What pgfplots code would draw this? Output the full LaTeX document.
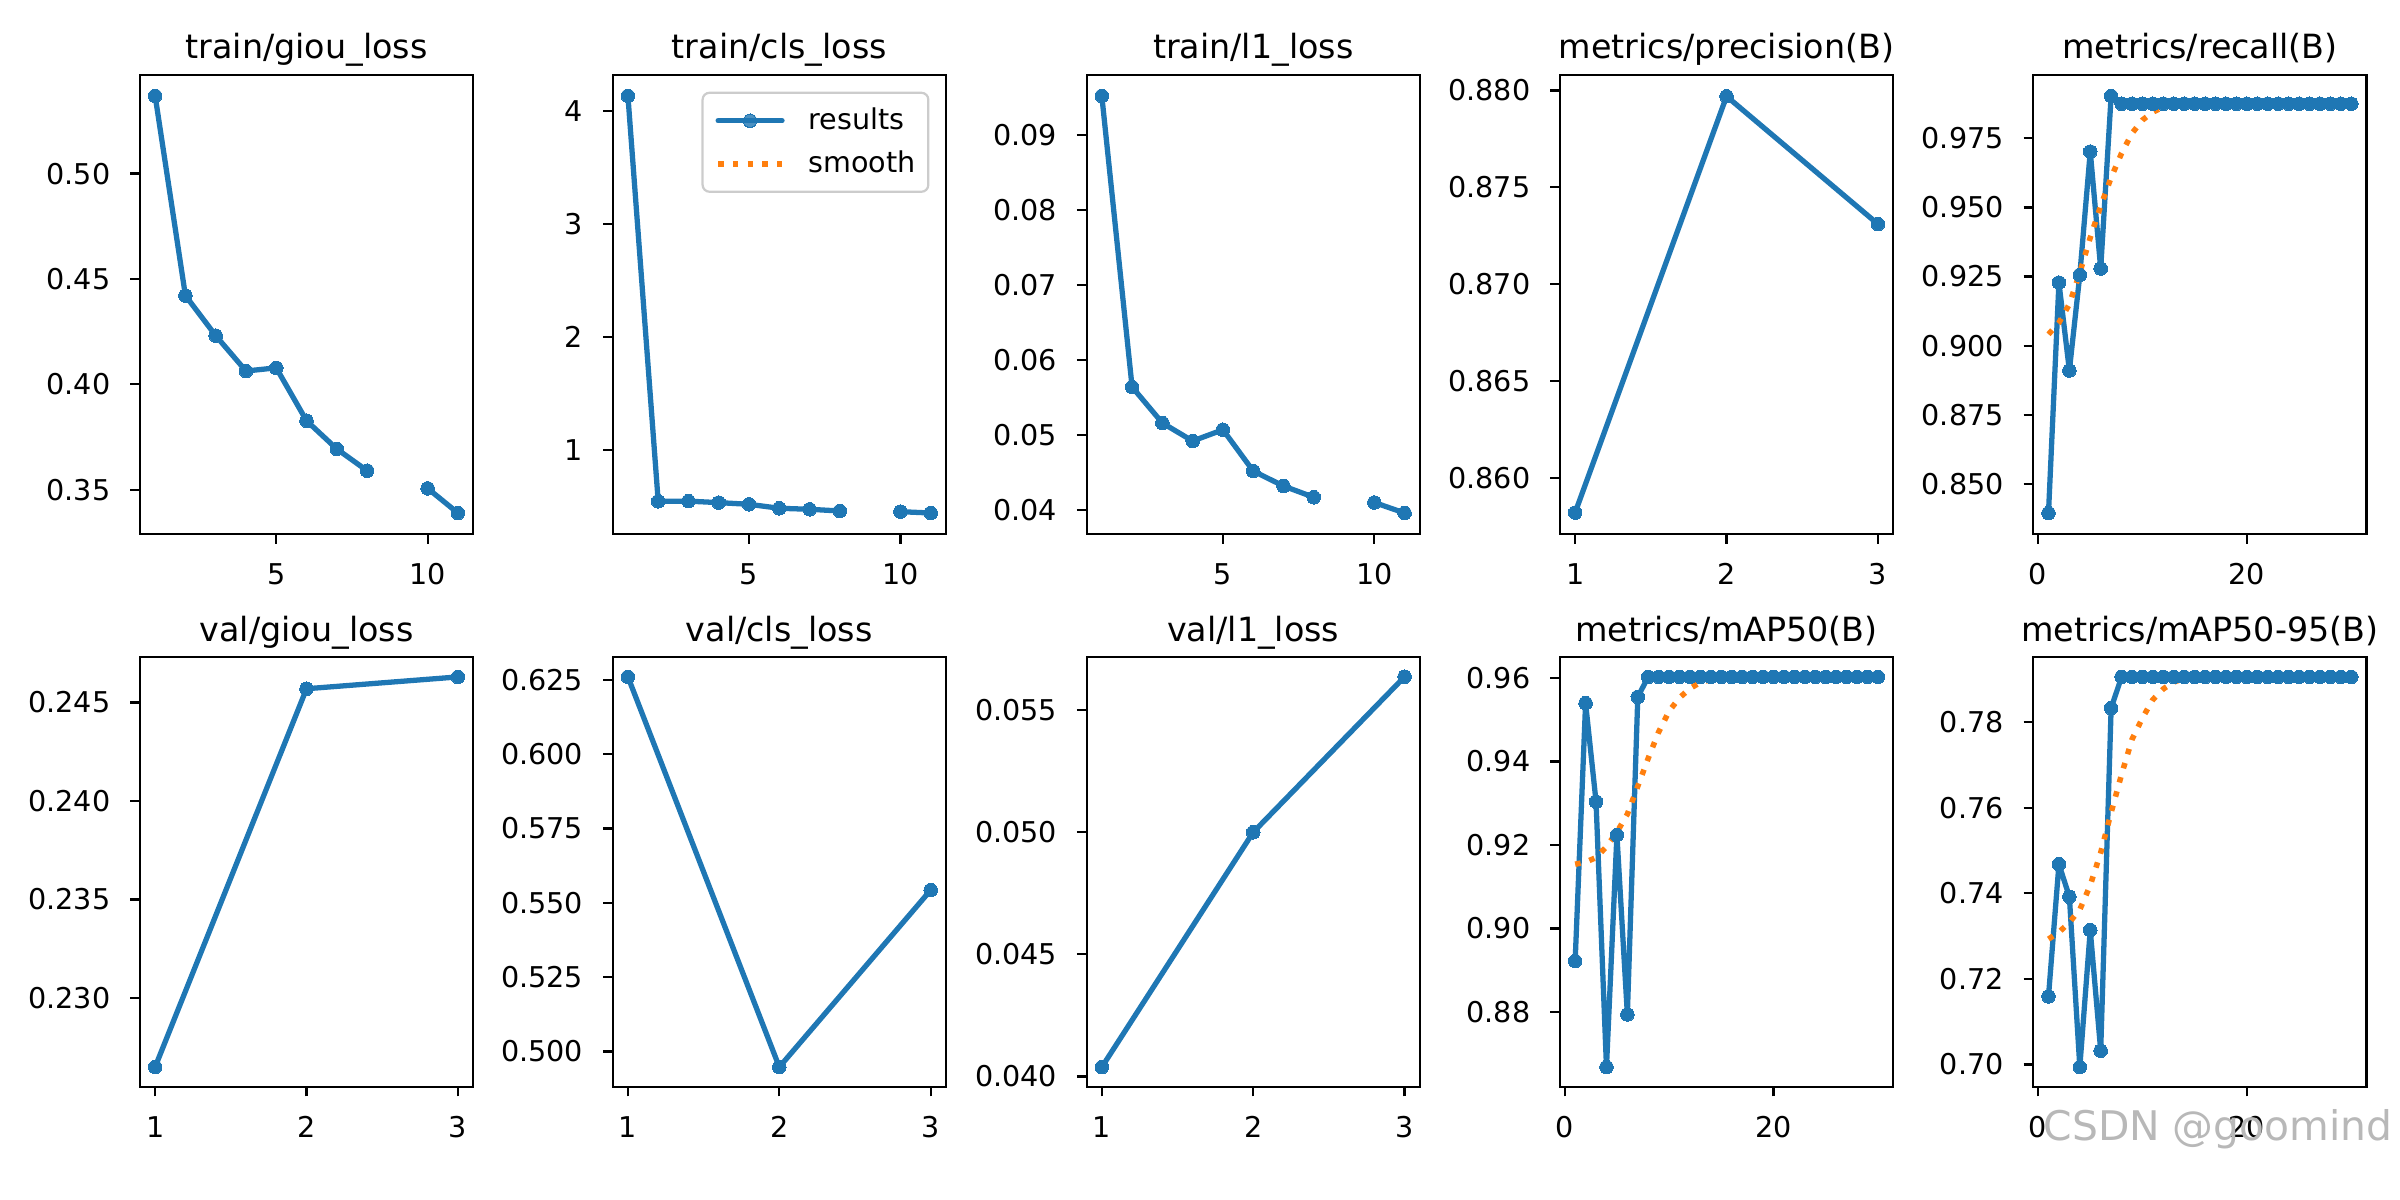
\documentclass[border=0pt]{standalone}
\usepackage{fontspec}
\setmainfont{DejaVu Sans}
\usepackage{pgfplots}
\pgfplotsset{compat=1.18}
\definecolor{c0}{HTML}{1F77B4}
\definecolor{c1}{HTML}{FF7F0E}
\newcommand{\tickfont}{\fontsize{10.3bp}{12bp}\selectfont}
\newcommand{\titlefont}{\fontsize{12bp}{14bp}\selectfont}
\pgfplotsset{
  every axis title/.style={at={(0.5,1)}, anchor=base, yshift=5.8bp, inner sep=0pt, font=\titlefont},
  panel/.style={
    scale only axis, width=119.9bp, anchor=south west,
    axis line style={line width=0.8bp, black},
    tick style={line width=0.8bp, black},
    major tick length=3.5bp,
    tick align=outside,
    xtick pos=left, ytick pos=left,
    minor tick num=0,
    tick label style={font=\tickfont, inner sep=0pt},
    xticklabel style={anchor=north, yshift=-7bp},
    yticklabel style={anchor=east, xshift=-7bp},
    /pgf/number format/assume math mode=true,
    scaled x ticks=false, scaled y ticks=false,
    unbounded coords=jump,
  },
  toprow/.style={panel, height=165.2bp},
  botrow/.style={panel, height=154.6bp},
  yp/.style={yticklabel style={/pgf/number format/.cd, fixed, fixed zerofill, precision=#1}},
  res/.style={color=c0, line width=1.9bp, line join=round, line cap=round, mark=*, mark size=2.45bp, mark options={solid, fill=c0, draw=c0, line width=0pt}},
  smo/.style={color=c1, line width=2bp, dash pattern=on 2bp off 3.3bp, no marks},
}
\begin{document}
\begin{tikzpicture}
\path[use as bounding box] (0,0) rectangle (864bp,432bp);
% ---------------- top row ----------------
\begin{axis}[toprow, at={(50.4bp,239.8bp)}, title={train/giou\_loss},
  xmin=0.5, xmax=11.5, ymin=0.3290, ymax=0.5468,
  xtick={5,10}, ytick={0.35,0.40,0.45,0.50}, yp=2]
\addplot[res] coordinates {(1,0.5369)(2,0.4421)(3,0.4231)(4,0.4063)(5,0.4078)(6,0.3827)(7,0.3693)(8,0.3590)(9,nan)(10,0.3506)(11,0.3389)};
\end{axis}
\begin{axis}[toprow, at={(220.6bp,239.8bp)}, title={train/cls\_loss},
  xmin=0.5, xmax=11.5, ymin=0.2604, ymax=4.3206,
  xtick={5,10}, ytick={1,2,3,4},
  legend style={at={(1,1)}, anchor=north east, xshift=-5.9bp, yshift=-6bp,
    draw=black!20, line width=0.8bp, rounded corners=2.5bp, fill=white, fill opacity=0.8, text opacity=1,
    font=\tickfont, inner xsep=4.6bp, inner ysep=5.4bp, row sep=6.2bp, column sep=8.5bp,
    nodes={inner sep=0pt}},
  legend cell align=left,
  legend image code/.code={\draw[mark repeat=2,mark phase=2,#1] plot coordinates {(0bp,0bp)(11.5bp,0bp)(23bp,0bp)};}]
\addplot[res] coordinates {(1,4.136)(2,0.549)(3,0.550)(4,0.537)(5,0.522)(6,0.487)(7,0.478)(8,0.463)(9,nan)(10,0.457)(11,0.445)};
\addlegendentry{results}
\addlegendimage{smo}
\addlegendentry{smooth}
\end{axis}
\begin{axis}[toprow, at={(391.2bp,239.8bp)}, title={train/l1\_loss},
  xmin=0.5, xmax=11.5, ymin=0.03682, ymax=0.09798,
  xtick={5,10}, ytick={0.04,0.05,0.06,0.07,0.08,0.09}, yp=2]
\addplot[res] coordinates {(1,0.0952)(2,0.0564)(3,0.0516)(4,0.0492)(5,0.0507)(6,0.0452)(7,0.0432)(8,0.0417)(9,nan)(10,0.0410)(11,0.0396)};
\end{axis}
\begin{axis}[toprow, at={(561.6bp,239.8bp)}, title={metrics/precision(B)},
  xmin=0.9, xmax=3.1, ymin=0.8571, ymax=0.8808,
  xtick={1,2,3}, ytick={0.860,0.865,0.870,0.875,0.880}, yp=3]
\addplot[res] coordinates {(1,0.8582)(2,0.8797)(3,0.8731)};
\end{axis}
\begin{axis}[toprow, at={(732.0bp,239.8bp)}, title={metrics/recall(B)},
  xmin=-0.45, xmax=31.45, ymin=0.8319, ymax=0.9979,
  xtick={0,20}, ytick={0.850,0.875,0.900,0.925,0.950,0.975}, yp=3]
\addplot[res] coordinates {(1,0.8394)(2,0.9228)(3,0.8910)(4,0.9256)(5,0.9702)(6,0.9279)(7,0.9903)(8,0.9875)(9,0.9875)(10,0.9875)(11,0.9875)(12,0.9875)(13,0.9875)(14,0.9875)(15,0.9875)(16,0.9875)(17,0.9875)(18,0.9875)(19,0.9875)(20,0.9875)(21,0.9875)(22,0.9875)(23,0.9875)(24,0.9875)(25,0.9875)(26,0.9875)(27,0.9875)(28,0.9875)(29,0.9875)(30,0.9875)};
\addplot[smo] coordinates {(1,0.9041)(2,0.9083)(3,0.9150)(4,0.9264)(5,0.9391)(6,0.9505)(7,0.9608)(8,0.9696)(9,0.9768)(10,0.9816)(11,0.9845)(12,0.9863)(13,0.9870)(14,0.9874)(15,0.9875)(16,0.9875)(17,0.9875)(18,0.9875)(19,0.9875)(20,0.9875)(21,0.9875)(22,0.9875)(23,0.9875)(24,0.9875)(25,0.9875)(26,0.9875)(27,0.9875)(28,0.9875)(29,0.9875)(30,0.9875)};
\end{axis}
% ---------------- bottom row ----------------
\begin{axis}[botrow, at={(50.4bp,40.8bp)}, title={val/giou\_loss},
  xmin=0.9, xmax=3.1, ymin=0.2255, ymax=0.2473,
  xtick={1,2,3}, ytick={0.230,0.235,0.240,0.245}, yp=3]
\addplot[res] coordinates {(1,0.2265)(2,0.2457)(3,0.2463)};
\end{axis}
\begin{axis}[botrow, at={(220.6bp,40.8bp)}, title={val/cls\_loss},
  xmin=0.9, xmax=3.1, ymin=0.4882, ymax=0.6326,
  xtick={1,2,3}, ytick={0.500,0.525,0.550,0.575,0.600,0.625}, yp=3]
\addplot[res] coordinates {(1,0.6260)(2,0.4948)(3,0.5543)};
\end{axis}
\begin{axis}[botrow, at={(391.2bp,40.8bp)}, title={val/l1\_loss},
  xmin=0.9, xmax=3.1, ymin=0.03958, ymax=0.05717,
  xtick={1,2,3}, ytick={0.040,0.045,0.050,0.055}, yp=3]
\addplot[res] coordinates {(1,0.04038)(2,0.0500)(3,0.05637)};
\end{axis}
\begin{axis}[botrow, at={(561.6bp,40.8bp)}, title={metrics/mAP50(B)},
  xmin=-0.45, xmax=31.45, ymin=0.8621, ymax=0.9650,
  xtick={0,20}, ytick={0.88,0.90,0.92,0.94,0.96}, yp=2]
\addplot[res] coordinates {(1,0.8922)(2,0.9540)(3,0.9304)(4,0.8668)(5,0.9224)(6,0.8794)(7,0.9555)(8,0.9603)(9,0.9603)(10,0.9603)(11,0.9603)(12,0.9603)(13,0.9603)(14,0.9603)(15,0.9603)(16,0.9603)(17,0.9603)(18,0.9603)(19,0.9603)(20,0.9603)(21,0.9603)(22,0.9603)(23,0.9603)(24,0.9603)(25,0.9603)(26,0.9603)(27,0.9603)(28,0.9603)(29,0.9603)(30,0.9603)};
\addplot[smo] coordinates {(1,0.9154)(2,0.9159)(3,0.9170)(4,0.9196)(5,0.9231)(6,0.9274)(7,0.9341)(8,0.9408)(9,0.9471)(10,0.9521)(11,0.9553)(12,0.9575)(13,0.9590)(14,0.9596)(15,0.9599)(16,0.9602)(17,0.9603)(18,0.9603)(19,0.9603)(20,0.9603)(21,0.9603)(22,0.9603)(23,0.9603)(24,0.9603)(25,0.9603)(26,0.9603)(27,0.9603)(28,0.9603)(29,0.9603)(30,0.9603)};
\end{axis}
\begin{axis}[botrow, at={(732.0bp,40.8bp)}, title={metrics/mAP50-95(B)},
  xmin=-0.45, xmax=31.45, ymin=0.6948, ymax=0.7952,
  xtick={0,20}, ytick={0.70,0.72,0.74,0.76,0.78}, yp=2]
\addplot[res] coordinates {(1,0.7159)(2,0.7468)(3,0.7392)(4,0.6994)(5,0.7314)(6,0.7032)(7,0.7833)(8,0.7906)(9,0.7906)(10,0.7906)(11,0.7906)(12,0.7906)(13,0.7906)(14,0.7906)(15,0.7906)(16,0.7906)(17,0.7906)(18,0.7906)(19,0.7906)(20,0.7906)(21,0.7906)(22,0.7906)(23,0.7906)(24,0.7906)(25,0.7906)(26,0.7906)(27,0.7906)(28,0.7906)(29,0.7906)(30,0.7906)};
\addplot[smo] coordinates {(1,0.7293)(2,0.7309)(3,0.7332)(4,0.7362)(5,0.7419)(6,0.7495)(7,0.7589)(8,0.7678)(9,0.7760)(10,0.7810)(11,0.7853)(12,0.7878)(13,0.7894)(14,0.7902)(15,0.7905)(16,0.7906)(17,0.7906)(18,0.7906)(19,0.7906)(20,0.7906)(21,0.7906)(22,0.7906)(23,0.7906)(24,0.7906)(25,0.7906)(26,0.7906)(27,0.7906)(28,0.7906)(29,0.7906)(30,0.7906)};
\end{axis}
\node[anchor=base west, inner sep=0pt, text=black!28, font=\fontsize{14.7bp}{16bp}\selectfont] at (735.5bp,21.6bp) {CSDN @goomind};
\end{tikzpicture}
\end{document}
